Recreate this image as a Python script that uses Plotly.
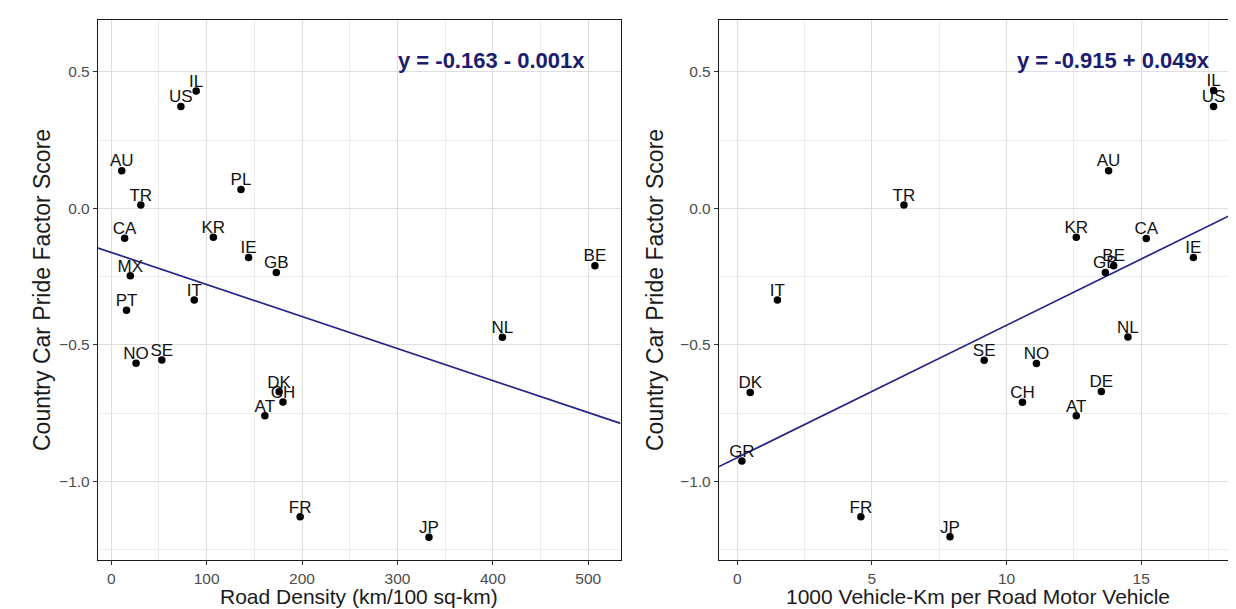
import numpy as np
import plotly.graph_objects as go
from plotly.subplots import make_subplots

# ---- Left panel: Road density ----
countries_density = ["IL", "US", "AU", "TR", "PL", "CA", "KR", "IE", "GB", "MX", "IT", "PT",
                     "NO", "SE", "DK", "CH", "AT", "FR", "JP", "NL", "BE"]
road_density = [89, 73, 11, 31, 136, 14, 107, 144, 173, 20, 87, 16,
                26, 53, 176, 180, 161, 198, 333, 410, 507]
score_density = [0.43, 0.373, 0.138, 0.012, 0.069, -0.109, -0.106, -0.180, -0.235, -0.247, -0.336, -0.373,
                 -0.567, -0.555, -0.672, -0.709, -0.760, -1.130, -1.205, -0.472, -0.210]

# ---- Right panel: vehicle-km per vehicle ----
countries_vkm = ["IL", "US", "AU", "TR", "KR", "CA", "IE", "BE", "GB", "IT", "NL", "SE",
                 "NO", "DK", "DE", "CH", "AT", "GR", "FR", "JP"]
vkm = [17.69, 17.69, 13.79, 6.19, 12.59, 15.19, 16.94, 13.98, 13.67, 1.49, 14.51, 9.17,
       11.11, 0.48, 13.52, 10.59, 12.59, 0.17, 4.59, 7.90]
score_vkm = [0.432, 0.373, 0.138, 0.012, -0.106, -0.110, -0.180, -0.210, -0.235, -0.336, -0.471, -0.556,
             -0.568, -0.674, -0.671, -0.710, -0.760, -0.925, -1.130, -1.203]

eq_left = "y = -0.163 - 0.001x"
eq_right = "y = -0.915 + 0.049x"
y_title = "Country Car Pride Factor Score"
x_title_left = "Road Density (km/100 sq-km)"
x_title_right = "1000 Vehicle-Km per Road Motor Vehicle"

W, H = 1236, 609
FONT = "Liberation Sans, Arial, sans-serif"
LINE_COLOR = "#22228a"
TEXT_NAVY = "#1c1c6e"

xr_left = [-13.9, 533.8]
xr_right = [-0.68, 18.56]
yr = [-1.288, 0.690]

# pixel layout of the plotting area
PL, PR, PT, PB = 90, 1229, 12, 552
LP = (90, 612.5)
RP = (711, 1229)
pw = PR - PL
ph = PB - PT


def px_x(px):
    return (px - PL) / pw


def px_y(py):
    return (PB - py) / ph


fig = make_subplots(rows=1, cols=2)


def add_panel(col, xs, ys, labels, xr):
    # least squares fit through the data, drawn across the full panel
    b1, b0 = np.polyfit(np.array(xs, float), np.array(ys, float), 1)
    lx = np.array(xr)
    fig.add_trace(go.Scatter(x=lx, y=b0 + b1 * lx, mode="lines",
                             line=dict(color=LINE_COLOR, width=1.7),
                             hoverinfo="skip", showlegend=False), row=1, col=col)
    fig.add_trace(go.Scatter(x=xs, y=ys, mode="text", text=labels,
                             textposition="top center",
                             textfont=dict(family=FONT, size=17, color="#111111"),
                             showlegend=False), row=1, col=col)
    fig.add_trace(go.Scatter(x=xs, y=ys, mode="markers",
                             marker=dict(color="black", size=7.5),
                             showlegend=False), row=1, col=col)


add_panel(1, road_density, score_density, countries_density, xr_left)
add_panel(2, vkm, score_vkm, countries_vkm, xr_right)

axis_common = dict(showline=True, mirror=True, linecolor="#1a1a1a", linewidth=1.4,
                   ticks="outside", ticklen=4, tickcolor="#333333", tickwidth=1,
                   showgrid=True, gridcolor="#dedede", gridwidth=1,
                   zeroline=False, automargin=False,
                   tickfont=dict(family=FONT, size=15.5, color="#4d4d4d"))

minor_grid = dict(showgrid=True, gridcolor="#ededed", gridwidth=0.7, ticks="")

fig.update_xaxes(axis_common)
fig.update_yaxes(axis_common)

fig.update_layout(
    xaxis=dict(domain=[px_x(LP[0]), px_x(LP[1])], range=xr_left,
               tickmode="array", tickvals=[0, 100, 200, 300, 400, 500],
               minor=dict(dtick=50, tick0=0, **minor_grid)),
    xaxis2=dict(domain=[px_x(RP[0]), px_x(RP[1])], range=xr_right,
                tickmode="array", tickvals=[0, 5, 10, 15],
                minor=dict(dtick=2.5, tick0=0, **minor_grid)),
    yaxis=dict(domain=[0, 1], range=yr, tickmode="array", tickvals=[-1.0, -0.5, 0.0, 0.5],
               tickformat=".1f", minor=dict(dtick=0.25, tick0=0.25, **minor_grid)),
    yaxis2=dict(domain=[0, 1], range=yr, tickmode="array", tickvals=[-1.0, -0.5, 0.0, 0.5],
                tickformat=".1f", minor=dict(dtick=0.25, tick0=0.25, **minor_grid)),
    width=W, height=H,
    margin=dict(l=PL, r=W - PR, t=PT, b=H - PB, autoexpand=False),
    plot_bgcolor="white", paper_bgcolor="white",
    showlegend=False,
)

xtitle_font = dict(family=FONT, size=21, color="#1a1a1a")
ytitle_font = dict(family=FONT, size=23, color="#1a1a1a")
panel_cy = px_y((PT + PB) / 2)

# axis titles
fig.add_annotation(x=px_x((LP[0] + LP[1]) / 2), y=px_y(588), xref="paper", yref="paper",
                   text=x_title_left, showarrow=False, font=xtitle_font,
                   xanchor="center", yanchor="middle")
fig.add_annotation(x=px_x((RP[0] + RP[1]) / 2), y=px_y(588), xref="paper", yref="paper",
                   text=x_title_right, showarrow=False, font=xtitle_font,
                   xanchor="center", yanchor="middle")
fig.add_annotation(x=px_x(34), y=panel_cy, xref="paper", yref="paper",
                   text=y_title, showarrow=False, font=ytitle_font, textangle=-90,
                   xanchor="center", yanchor="middle")
fig.add_annotation(x=px_x(647), y=panel_cy, xref="paper", yref="paper",
                   text=y_title, showarrow=False, font=ytitle_font, textangle=-90,
                   xanchor="center", yanchor="middle")

# regression equations
fig.add_annotation(x=px_x(483), y=px_y(52), xref="paper", yref="paper", text="<b>" + eq_left + "</b>",
                   showarrow=False, font=dict(family=FONT, size=22, color=TEXT_NAVY),
                   xanchor="center", yanchor="middle")
fig.add_annotation(x=px_x(1105), y=px_y(52), xref="paper", yref="paper", text="<b>" + eq_right + "</b>",
                   showarrow=False, font=dict(family=FONT, size=22, color=TEXT_NAVY),
                   xanchor="center", yanchor="middle")

fig.write_html("out.html")
